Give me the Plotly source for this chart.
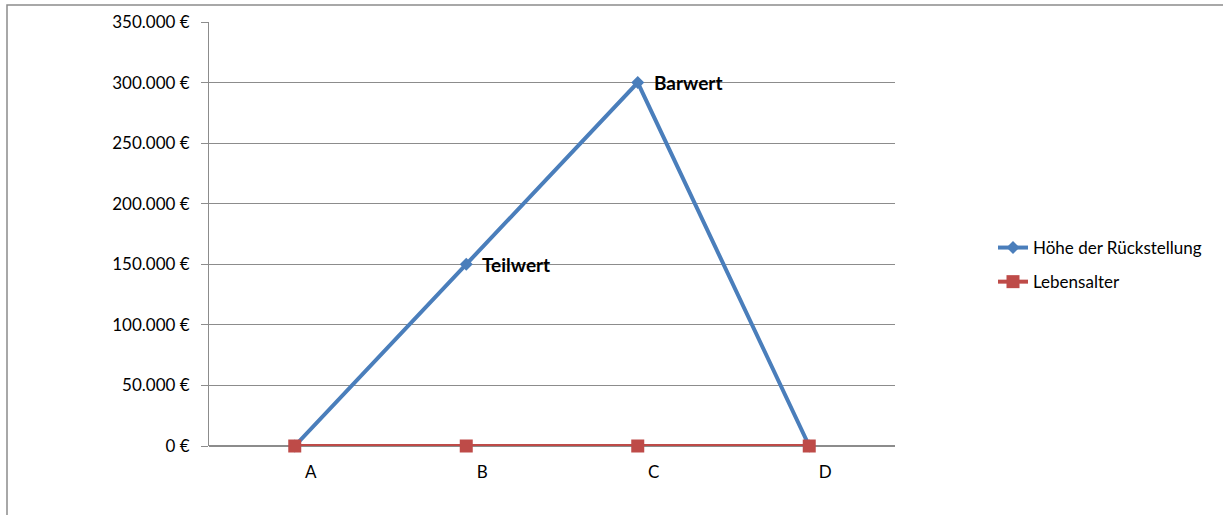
import plotly.graph_objects as go

categories = ["A", "B", "C", "D"]
rueckstellung = [0, 150000, 300000, 0]
lebensalter = [0, 0, 0, 0]
y_ticks = [0, 50000, 100000, 150000, 200000, 250000, 300000, 350000]
y_tick_labels = ["0 €", "50.000 €", "100.000 €", "150.000 €", "200.000 €",
                 "250.000 €", "300.000 €", "350.000 €"]
point_labels = {"B": "Teilwert", "C": "Barwert"}

BLUE = "#4A7EBB"
RED = "#BE4B48"
GRID = "#8C8C8C"
FONT = "Lato"

W, H = 1223, 515
L, R, T, B = 209, 328, 22, 69
pw, ph = W - L - R, H - T - B

fig = go.Figure()
fig.add_trace(go.Scatter(
    x=categories, y=rueckstellung, name="Höhe der Rückstellung",
    mode="lines+markers", legendgroup="g1", cliponaxis=False,
    line=dict(color=BLUE, width=4),
    marker=dict(symbol="diamond", size=10, color=BLUE),
))
fig.add_trace(go.Scatter(
    x=categories, y=lebensalter, name="Lebensalter",
    mode="lines+markers", legendgroup="g2", cliponaxis=False,
    line=dict(color=RED, width=4),
    marker=dict(symbol="square", size=13, color=RED),
))

for cat, text in point_labels.items():
    idx = categories.index(cat)
    fig.add_annotation(
        x=cat, y=rueckstellung[idx], text=f"<b>{text}</b>",
        showarrow=False, xanchor="left", yanchor="middle", xshift=14,
        font=dict(family=FONT, size=19, color="black"),
    )

# outer chart frame (left and top edges visible)
px = lambda v: (v - L) / pw
py = lambda v: (H - B - v) / ph
fig.add_shape(type="rect", xref="paper", yref="paper",
              x0=px(7), x1=px(W + 10), y0=py(H + 10), y1=py(5),
              line=dict(color="#8C8C8C", width=1.5), layer="below")

fig.update_layout(
    width=W, height=H,
    margin=dict(l=L, r=R, t=T, b=B, pad=0),
    paper_bgcolor="white", plot_bgcolor="white",
    font=dict(family=FONT, size=17, color="black"),
    showlegend=True,
    legend=dict(x=px(993), y=py(265), xanchor="left", yanchor="middle",
                font=dict(family=FONT, size=17), traceorder="grouped",
                tracegroupgap=9, bgcolor="rgba(0,0,0,0)"),
    xaxis=dict(
        type="category", range=[-0.5, 3.5],
        showgrid=False, showline=False, zeroline=False,
        ticks="", ticklabelshift=16, ticklabelstandoff=14,
        tickfont=dict(family=FONT, size=17),
        fixedrange=True,
    ),
    yaxis=dict(
        range=[0, 350000], tickvals=y_ticks, ticktext=y_tick_labels,
        showgrid=True, gridcolor=GRID, gridwidth=1,
        showline=True, linecolor=GRID, linewidth=1,
        ticks="outside", ticklen=7, tickcolor=GRID,
        zeroline=True, zerolinecolor=GRID, zerolinewidth=1.5,
        ticklabelstandoff=8,
        tickfont=dict(family=FONT, size=17),
        fixedrange=True,
    ),
)

fig.write_html("out.html")
